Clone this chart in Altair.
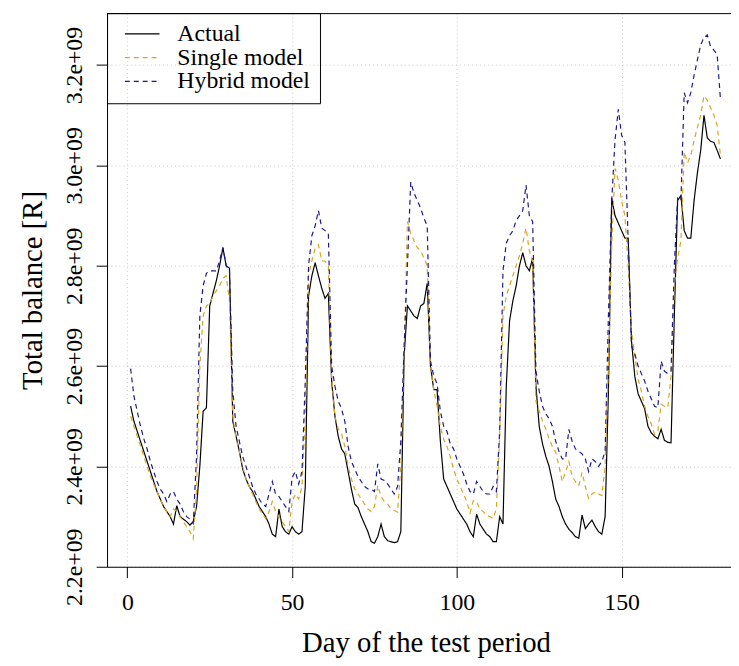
import altair as alt
import pandas as pd

days = list(range(1, 181))

actual = [
    2.52, 2.49, 2.47, 2.45, 2.43, 2.41, 2.39, 2.37, 2.35, 2.335,
    2.32, 2.31, 2.30, 2.285, 2.322, 2.30, 2.295, 2.29, 2.283, 2.29,
    2.32, 2.40, 2.51, 2.517, 2.72, 2.745, 2.77, 2.80, 2.836, 2.80,
    2.795, 2.49, 2.46, 2.43, 2.395, 2.375, 2.36, 2.35, 2.335, 2.32,
    2.31, 2.30, 2.285, 2.265, 2.26, 2.315, 2.28, 2.27, 2.265, 2.28,
    2.27, 2.265, 2.27, 2.36, 2.74, 2.78, 2.806, 2.78, 2.755, 2.735,
    2.745, 2.57, 2.50, 2.46, 2.435, 2.425, 2.39, 2.355, 2.325, 2.318,
    2.30, 2.285, 2.27, 2.25, 2.247, 2.26, 2.285, 2.26, 2.252, 2.25,
    2.248, 2.25, 2.27, 2.62, 2.72, 2.71, 2.70, 2.695, 2.72, 2.725,
    2.765, 2.60, 2.553, 2.553, 2.45, 2.375, 2.36, 2.345, 2.33, 2.315,
    2.305, 2.295, 2.285, 2.27, 2.26, 2.305, 2.285, 2.275, 2.265, 2.26,
    2.25, 2.25, 2.30, 2.285, 2.56, 2.69, 2.73, 2.76, 2.80, 2.826,
    2.80, 2.79, 2.815, 2.56, 2.48, 2.445, 2.42, 2.40, 2.37, 2.335,
    2.32, 2.30, 2.285, 2.275, 2.268, 2.26, 2.257, 2.303, 2.276, 2.285,
    2.293, 2.28, 2.27, 2.265, 2.30, 2.55, 2.935, 2.90, 2.885, 2.87,
    2.855, 2.855, 2.65, 2.58, 2.545, 2.53, 2.515, 2.48, 2.467, 2.46,
    2.455, 2.474, 2.452, 2.448, 2.447, 2.70, 2.93, 2.94, 2.87, 2.855,
    2.855, 2.93, 2.985, 3.03, 3.10, 3.055, 3.048, 3.046, 3.03, 3.013,
]

single = [
    2.50, 2.48, 2.46, 2.44, 2.42, 2.40, 2.38, 2.365, 2.35, 2.335,
    2.32, 2.31, 2.30, 2.315, 2.31, 2.30, 2.29, 2.28, 2.27, 2.256,
    2.35, 2.60, 2.70, 2.72, 2.725, 2.74, 2.75, 2.76, 2.775, 2.78,
    2.73, 2.50, 2.455, 2.43, 2.40, 2.375, 2.36, 2.345, 2.33, 2.316,
    2.305, 2.296, 2.31, 2.33, 2.31, 2.30, 2.29, 2.28, 2.27, 2.33,
    2.345, 2.335, 2.36, 2.50, 2.78, 2.81, 2.835, 2.842, 2.81, 2.809,
    2.80, 2.58, 2.50, 2.475, 2.465, 2.44, 2.40, 2.375, 2.355, 2.345,
    2.335, 2.325, 2.315, 2.31, 2.32, 2.362, 2.34, 2.33, 2.325, 2.316,
    2.312, 2.309, 2.40, 2.62, 2.888, 2.865, 2.85, 2.836, 2.83, 2.816,
    2.80, 2.60, 2.553, 2.52, 2.48, 2.454, 2.44, 2.42, 2.395, 2.375,
    2.36, 2.345, 2.33, 2.307, 2.332, 2.33, 2.315, 2.31, 2.303, 2.30,
    2.296, 2.316, 2.46, 2.70, 2.74, 2.76, 2.78, 2.80, 2.82, 2.845,
    2.875, 2.83, 2.81, 2.53, 2.51, 2.49, 2.474, 2.455, 2.44, 2.428,
    2.40, 2.37, 2.39, 2.41, 2.38, 2.37, 2.362, 2.388, 2.36, 2.336,
    2.345, 2.349, 2.345, 2.342, 2.40, 2.60, 2.84, 2.994, 2.97, 2.93,
    2.90, 2.80, 2.67, 2.62, 2.575, 2.55, 2.52, 2.50, 2.485, 2.464,
    2.47, 2.524, 2.52, 2.517, 2.58, 2.76, 2.814, 2.85, 3.027, 3.005,
    3.02, 3.05, 3.076, 3.10, 3.139, 3.13, 3.115, 3.10, 3.08, 3.02,
]

hybrid = [
    2.595, 2.54, 2.51, 2.48, 2.455, 2.435, 2.41, 2.39, 2.37, 2.355,
    2.345, 2.33, 2.345, 2.35, 2.335, 2.325, 2.31, 2.30, 2.295, 2.286,
    2.42, 2.70, 2.76, 2.785, 2.79, 2.79, 2.79, 2.81, 2.836, 2.80,
    2.79, 2.55, 2.48, 2.45, 2.42, 2.40, 2.38, 2.36, 2.345, 2.335,
    2.325, 2.32, 2.345, 2.37, 2.345, 2.34, 2.33, 2.32, 2.31, 2.378,
    2.39, 2.365, 2.39, 2.57, 2.80, 2.86, 2.88, 2.91, 2.875, 2.87,
    2.865, 2.60, 2.56, 2.53, 2.515, 2.49, 2.44, 2.41, 2.395, 2.38,
    2.37, 2.36, 2.355, 2.355, 2.35, 2.405, 2.375, 2.372, 2.365, 2.355,
    2.345, 2.36, 2.45, 2.64, 2.80, 2.967, 2.945, 2.93, 2.915, 2.895,
    2.88, 2.61, 2.58, 2.565, 2.51, 2.48, 2.47, 2.445, 2.435, 2.415,
    2.40, 2.385, 2.365, 2.35, 2.345, 2.37, 2.36, 2.35, 2.345, 2.345,
    2.36, 2.35, 2.47, 2.79, 2.845, 2.86, 2.87, 2.89, 2.90, 2.91,
    2.961, 2.90, 2.888, 2.59, 2.55, 2.52, 2.505, 2.495, 2.48, 2.45,
    2.43, 2.415, 2.415, 2.474, 2.45, 2.435, 2.43, 2.425, 2.415, 2.39,
    2.415, 2.41, 2.40, 2.41, 2.43, 2.70, 2.93, 3.05, 3.112, 3.06,
    3.046, 2.85, 2.64, 2.625, 2.60, 2.585, 2.57, 2.55, 2.535, 2.52,
    2.517, 2.61, 2.59, 2.585, 2.59, 2.80, 2.935, 2.93, 3.145, 3.125,
    3.145, 3.18, 3.21, 3.24, 3.255, 3.26, 3.237, 3.23, 3.221, 3.132,
]

series_names = ["Actual", "Single model", "Hybrid model"]
series_colors = ["#000000", "#DAA520", "#1A1A8C"]
series_dash = [[1, 0], [5, 4], [5, 4]]

x_ticks = [0, 50, 100, 150]
y_ticks = [2.2e9, 2.4e9, 2.6e9, 2.8e9, 3.0e9, 3.2e9]

rows = []
for name, vals in zip(series_names, [actual, single, hybrid]):
    for d, v in zip(days, vals):
        rows.append({"day": d, "value": v * 1e9, "series": name})
df = pd.DataFrame(rows)

FONT = "Liberation Serif"

legend_kw = dict(
    title=None,
    orient="none",
    legendX=0,
    legendY=0,
    symbolType="stroke",
    symbolSize=1225,
    symbolStrokeWidth=1.2,
    labelFont=FONT,
    labelFontSize=24,
    labelColor="black",
    labelOffset=17,
    padding=10,
    strokeColor="black",
    clipHeight=22,
    rowPadding=0,
    symbolOffset=7,
)

lines = alt.Chart(df).mark_line(strokeWidth=1.2, clip=True).encode(
    x=alt.X(
        "day:Q",
        scale=alt.Scale(domain=[-6.16, 183.2], nice=False, zero=False),
        axis=alt.Axis(
            values=x_ticks,
            title="Day of the test period",
            labelBaseline="alphabetic",
            labelPadding=32,
            labelFlush=False,
            labelOverlap=False,
            titleX=322,
            titleY=86,
            titleAlign="center",
            titleBaseline="alphabetic",
        ),
    ),
    y=alt.Y(
        "value:Q",
        scale=alt.Scale(domain=[2.2e9, 3.3036e9], nice=False, zero=False),
        axis=alt.Axis(
            values=y_ticks,
            labelExpr="format(datum.value / 1e9, '.1f') + 'e+09'",
            labelAngle=-90,
            labelAlign="center",
            labelBaseline="alphabetic",
            labelPadding=15,
            labelFlush=False,
            labelOverlap=False,
            title="Total balance [R]",
            titleAngle=270,
            titleX=-66,
            titleY=279.5,
            titleAlign="center",
            titleBaseline="alphabetic",
        ),
    ),
    color=alt.Color(
        "series:N",
        scale=alt.Scale(domain=series_names, range=series_colors),
        legend=alt.Legend(**legend_kw),
    ),
    strokeDash=alt.StrokeDash(
        "series:N",
        scale=alt.Scale(domain=series_names, range=series_dash),
        legend=alt.Legend(**legend_kw),
    ),
    order=alt.Order("series_order:Q"),
)

lines = lines.transform_calculate(
    series_order="indexof(['Actual','Single model','Hybrid model'], datum.series)"
)

top_border = alt.Chart(pd.DataFrame({"b": [0]})).mark_rule(
    color="black", strokeWidth=1
).encode(y=alt.value(0.5))

chart = alt.layer(lines, top_border).properties(
    width=630,
    height=559,
    autosize=alt.AutoSizeParams(type="none"),
    padding={"left": 100, "top": 2, "right": 0, "bottom": 95},
).configure_view(stroke=None).configure_axis(
    labelFont=FONT,
    titleFont=FONT,
    labelColor="black",
    titleColor="black",
    tickColor="black",
    domainColor="black",
    gridColor="#C8C8C8",
    gridDash=[1, 3],
    gridWidth=1,
    titleFontWeight="normal",
    labelFontSize=24,
    titleFontSize=29,
    tickSize=11,
    tickWidth=1,
    domainWidth=1,
)

chart.save("out.html", embed_options={"renderer": "svg", "actions": False})
